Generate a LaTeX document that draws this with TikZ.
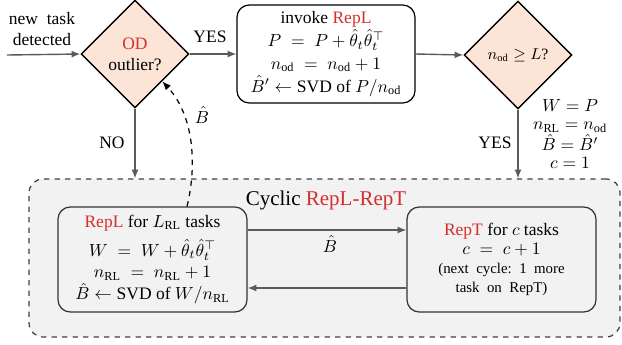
\documentclass[tikz,border=0pt]{standalone}
\usepackage{amsmath}
\usepackage{fontspec}
\setmainfont{Liberation Serif}
\usetikzlibrary{shapes.geometric,arrows.meta,calc}
\definecolor{myred}{RGB}{214,45,45}
\definecolor{peach}{RGB}{252,228,214}
\definecolor{panel}{RGB}{242,242,242}
\definecolor{arrowgray}{RGB}{90,90,90}
\tikzset{
  decision/.style={diamond, aspect=1, draw=black, line width=0.8pt, fill=peach,
    minimum width=61.7pt, minimum height=61.7pt, inner sep=0pt, align=center,
    font=\fontsize{10}{12}\selectfont},
  procbox/.style={draw=black, line width=0.7pt, rounded corners=7pt, align=center,
    inner sep=0pt},
  flow/.style={draw=arrowgray, line width=0.8pt, -{Latex[length=5pt,width=4pt]}},
  lbl/.style={align=center, inner sep=0pt, font=\fontsize{10}{12}\selectfont},
  hl/.style={text=myred}
}
\begin{document}
\begin{tikzpicture}[x=0.5714pt, y=-0.5714pt]
\useasboundingbox (0,0) rectangle (622,344);
% container
\node[draw=black!75, dashed, line width=0.7pt, fill=panel, rounded corners=8pt,
  minimum width=337.7pt, minimum height=90.3pt, inner sep=0pt] (cont) at (324.5,258) {};
\node[lbl, font=\fontsize{12}{14}\selectfont] (title) at (326,200) {Cyclic \textcolor{myred}{RepL-RepT}};

% top row
\coordinate (start) at (7,55);
\node[lbl] (newtask) at (42,29) {new\ \ task\\detected};
\node[decision] (d1) at (135,54) {\textcolor{myred}{OD}\\outlier?};
\node[procbox, minimum width=101.7pt, minimum height=56pt,
  font=\fontsize{10}{13}\selectfont] (b1) at (326,54)
  {invoke \textcolor{myred}{RepL}\\
   $P \;=\; P + \hat\theta_t\hat\theta_t^{\top}$\\
   $n_{\mathrm{od}} \;=\; n_{\mathrm{od}} + 1$\\
   $\hat B' \leftarrow \text{SVD of } P/n_{\mathrm{od}}$};
\node[decision, font=\fontsize{9}{11}\selectfont] (d2) at (518,55) {$n_{\mathrm{od}} \geq L$?};

\node[lbl] (yes1) at (210,37) {YES};
\node[lbl] (yes2) at (495,143) {YES};
\node[lbl] (no) at (112,143) {NO};
\node[lbl, font=\fontsize{10}{10.5}\selectfont] (cond) at (570,134)
  {$W = P$\\ $n_{\mathrm{RL}} = n_{\mathrm{od}}$\\ $\hat B = \hat B'$\\ $c = 1$};

% bottom boxes
\node[procbox, draw=black!80, minimum width=108pt, minimum height=60pt,
  font=\fontsize{10}{12.5}\selectfont] (bL) at (152.5,259.5)
  {\textcolor{myred}{RepL} for $L_{\mathrm{RL}}$ tasks\\[4pt]
   $W \;=\; W + \hat\theta_t\hat\theta_t^{\top}$\\
   $n_{\mathrm{RL}} \;=\; n_{\mathrm{RL}} + 1$\\
   $\hat B \leftarrow \text{SVD of } W/n_{\mathrm{RL}}$};
\node[procbox, draw=black!80, minimum width=108pt, minimum height=60pt,
  font=\fontsize{10}{11}\selectfont] (bR) at (501.5,259.5)
  {\textcolor{myred}{RepT} for $c$ tasks\\
   $c \;=\; c + 1$\\
   {\fontsize{8.5}{11}\selectfont (next\ \ cycle:\ \ 1\ \ more}\\
   {\fontsize{8.5}{11}\selectfont task\ \ on\ \ RepT)}};

% connectors
\draw[flow] (start) -- (d1.west);
\draw[flow] (d1.east) -- (b1.west);
\draw[flow] (b1.east) -- (d2.west);
\draw[flow] (d1.south) -- (d1.south |- cont.north);
\draw[flow] (d2.south) -- (d2.south |- cont.north);

\coordinate (ytop) at (0,230);
\coordinate (ybot) at (0,288);
\draw[flow] (bL.east |- ytop) -- (bR.west |- ytop);
\draw[flow] (bR.west |- ybot) -- (bL.east |- ybot);
\node[lbl] (bhat2) at (330,244) {$\hat B$};

\coordinate (xs) at (187,0);
\coordinate (c1) at (196,170);
\coordinate (c2) at (196,118);
\draw[black, line width=0.7pt, dashed, -{Latex[length=5pt,width=4pt]}]
  (bL.north -| xs) .. controls (c1) and (c2) .. (d1.south east);
\node[lbl] (bhat1) at (202,115) {$\hat B$};
\end{tikzpicture}
\end{document}
